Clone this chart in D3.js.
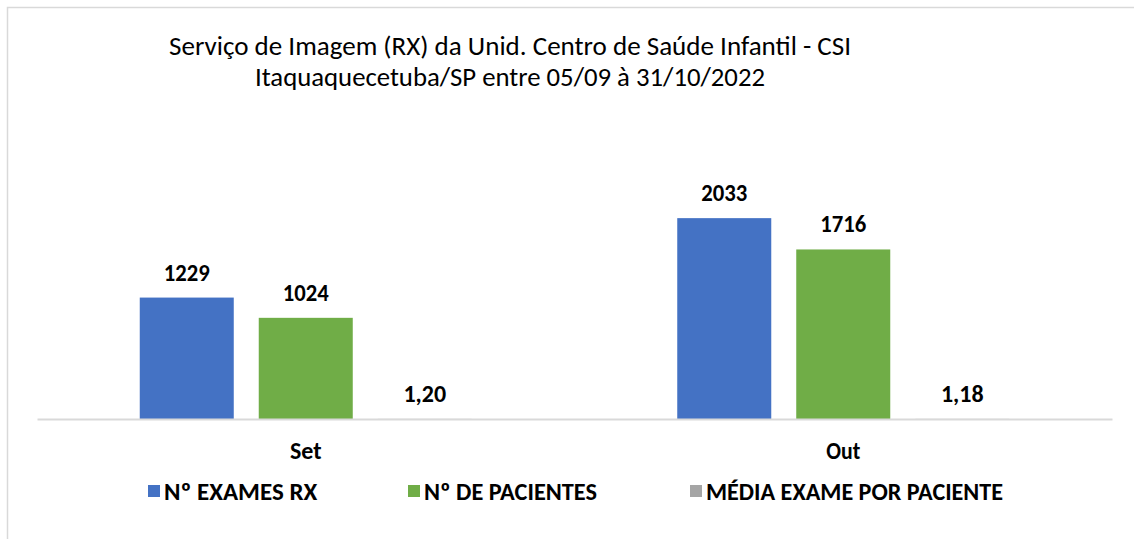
<!DOCTYPE html>
<html><head><meta charset="utf-8">
<script src="https://cdn.jsdelivr.net/npm/d3@7"></script>
<style>
html,body{margin:0;padding:0;background:#fff;}
svg{display:block;}
text{font-family:Carlito,"Liberation Sans Narrow","Liberation Sans",Arial,sans-serif;fill:#000;}
</style></head>
<body>
<svg id="chart" width="1134" height="539"></svg>
<script>
const categories = ["Set", "Out"];
const seriesNames = ["Nº EXAMES RX", "Nº DE PACIENTES", "MÉDIA EXAME POR PACIENTE"];
const examesRX = [1229, 2033];
const pacientes = [1024, 1716];
const mediaExame = [1.20, 1.18];
const valueLabels = [["1229", "2033"], ["1024", "1716"], ["1,20", "1,18"]];
const titleLines = ["Serviço de Imagem (RX) da Unid. Centro de Saúde Infantil - CSI", "Itaquaquecetuba/SP entre 05/09 à 31/10/2022"];
const colors = ["#4472C4", "#70AD47", "#A5A5A5"];

const series = [examesRX, pacientes, mediaExame];
const svg = d3.select("#chart");

// frame
svg.append("path").attr("d", "M7.5,539 V7.5 H1134").attr("fill", "none").attr("stroke", "#D9D9D9").attr("stroke-width", 1.5);

const x0 = d3.scaleBand().domain(categories).range([37, 1112]).paddingInner(0).paddingOuter(0);
const x1 = d3.scaleBand().domain(d3.range(series.length)).range([0, 332]).paddingInner(0.21).paddingOuter(0);
const y = d3.scaleLinear().domain([0, 2500]).range([419, 172]);

const fitText = (sel, w) => sel.each(function(){ const L = this.getComputedTextLength(); if (Math.abs(L - w) > 1) { d3.select(this).attr("textLength", w).attr("lengthAdjust", "spacingAndGlyphs"); } });

// title
svg.append("g").selectAll("text").data(titleLines).join("text")
  .attr("x", 510).attr("y", (d, i) => 55 + i * 31)
  .attr("text-anchor", "middle").attr("font-size", 26)
  .text(d => d)
  .each(function(d, i){ fitText(d3.select(this), i === 0 ? 682 : 510); });

// bars
const groups = svg.append("g").selectAll("g").data(categories).join("g")
  .attr("transform", c => `translate(${x0(c) + x0.bandwidth() / 2 - 166},0)`);

groups.each(function(c, ci){
  const g = d3.select(this);
  series.forEach((s, si) => {
    g.append("rect")
      .attr("x", x1(si)).attr("width", x1.bandwidth())
      .attr("y", y(s[ci])).attr("height", y(0) - y(s[ci]))
      .attr("fill", colors[si]);
    g.append("text")
      .attr("x", x1(si) + x1.bandwidth() / 2).attr("y", y(s[ci]) - 17)
      .attr("text-anchor", "middle").attr("font-size", 24).attr("font-weight", "bold")
      .text(valueLabels[si][ci])
      .each(function(){ fitText(d3.select(this), si === 2 ? 43 : 46); });
  });
});

// axis
const xAxis = d3.axisBottom(x0).tickSize(0).tickPadding(0);
const ax = svg.append("g").attr("transform", `translate(0,${y(0)})`).call(xAxis);
ax.select(".domain").attr("stroke", "#D9D9D9").attr("stroke-width", 2);
ax.selectAll(".tick text").attr("dy", 0).attr("y", 40).attr("font-size", 24).attr("font-weight", "bold")
  .attr("font-family", 'Carlito,"Liberation Sans Narrow","Liberation Sans",Arial,sans-serif').attr("fill", "#000")
  .each(function(d){ fitText(d3.select(this), d === "Set" ? 31 : 34); });

// legend
const legendX = [148, 408, 690];
const legendW = [153, 173, 297];
const lg = svg.append("g").selectAll("g").data(seriesNames).join("g")
  .attr("transform", (d, i) => `translate(${legendX[i]},485)`);
lg.append("rect").attr("width", 12).attr("height", 12).attr("fill", (d, i) => colors[i]);
lg.append("text").attr("x", 16).attr("y", 14.5).attr("font-size", 25).attr("font-weight", "bold")
  .text(d => d)
  .each(function(d, i){ fitText(d3.select(this), legendW[i]); });
</script>
</body></html>
